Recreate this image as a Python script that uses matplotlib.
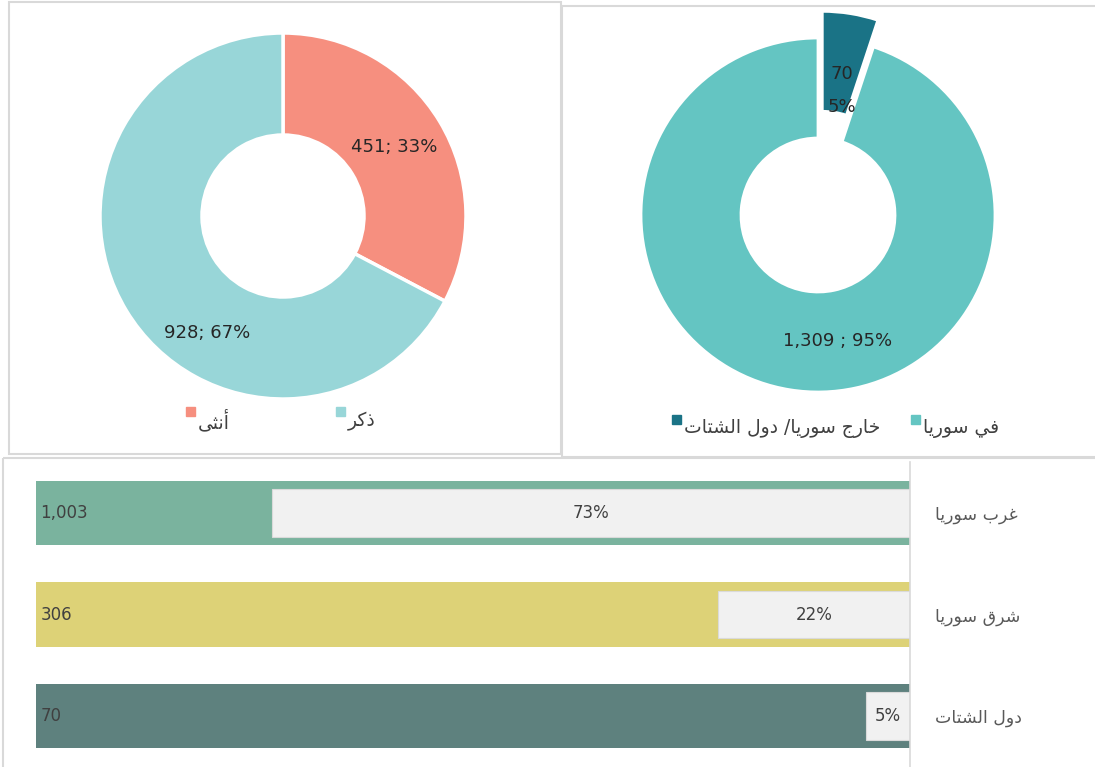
import matplotlib.pyplot as plt
from matplotlib.patches import Rectangle
import numpy as np

# Data
gender_labels = ['أنثى', 'ذكر']
gender_values = [451, 928]
gender_pct = [33, 67]

place_labels = ['خارج سوريا/ دول الشتات', 'في سوريا']
place_values = [70, 1309]
place_pct = [5, 95]

region_labels = ['غرب سوريا', 'شرق سوريا', 'دول الشتات']
region_values = [1003, 306, 70]
region_pct = [73, 22, 5]

# Arabic contextual forms (isolated, final, initial, medial)
FORMS = {
    'ا': ('\uFE8D', '\uFE8E', None, None),
    'أ': ('\uFE83', '\uFE84', None, None),
    'ب': ('\uFE8F', '\uFE90', '\uFE91', '\uFE92'),
    'ت': ('\uFE95', '\uFE96', '\uFE97', '\uFE98'),
    'ث': ('\uFE99', '\uFE9A', '\uFE9B', '\uFE9C'),
    'ج': ('\uFE9D', '\uFE9E', '\uFE9F', '\uFEA0'),
    'خ': ('\uFEA5', '\uFEA6', '\uFEA7', '\uFEA8'),
    'د': ('\uFEA9', '\uFEAA', None, None),
    'ذ': ('\uFEAB', '\uFEAC', None, None),
    'ر': ('\uFEAD', '\uFEAE', None, None),
    'س': ('\uFEB1', '\uFEB2', '\uFEB3', '\uFEB4'),
    'ش': ('\uFEB5', '\uFEB6', '\uFEB7', '\uFEB8'),
    'غ': ('\uFECD', '\uFECE', '\uFECF', '\uFED0'),
    'ف': ('\uFED1', '\uFED2', '\uFED3', '\uFED4'),
    'ق': ('\uFED5', '\uFED6', '\uFED7', '\uFED8'),
    'ك': ('\uFED9', '\uFEDA', '\uFEDB', '\uFEDC'),
    'ل': ('\uFEDD', '\uFEDE', '\uFEDF', '\uFEE0'),
    'ن': ('\uFEE5', '\uFEE6', '\uFEE7', '\uFEE8'),
    'و': ('\uFEED', '\uFEEE', None, None),
    'ى': ('\uFEEF', '\uFEF0', None, None),
    'ي': ('\uFEF1', '\uFEF2', '\uFEF3', '\uFEF4'),
}


def ar(text):
    # shape letters and reverse for right-to-left display
    out = []
    for i, c in enumerate(text):
        if c not in FORMS:
            out.append(c)
            continue
        prev = text[i - 1] if i > 0 else None
        nxt = text[i + 1] if i + 1 < len(text) else None
        jp = prev in FORMS and FORMS[prev][2] is not None
        jn = nxt in FORMS and FORMS[c][2] is not None
        iso, fin, ini, med = FORMS[c]
        if jp and jn:
            out.append(med)
        elif jp:
            out.append(fin)
        elif jn:
            out.append(ini)
        else:
            out.append(iso)
    return ''.join(out)[::-1]


W, H = 1095, 767
fig = plt.figure(figsize=(W / 100, H / 100), dpi=100)

num_font = ['Liberation Sans Narrow', 'DejaVu Sans']
ar_font = ['DejaVu Sans']


def px_axes(cx, cy, half):
    return fig.add_axes([(cx - half) / W, (H - cy - half) / H, 2 * half / W, 2 * half / H])


# background / borders
bg = fig.add_axes([0, 0, 1, 1])
bg.set_xlim(0, W)
bg.set_ylim(H, 0)
bg.axis('off')
for x0, y0, x1, y1 in [(9, 2, 561, 454), (562, 6, 1110, 457), (3, 458, 1110, 780)]:
    bg.add_patch(Rectangle((x0, y0), x1 - x0, y1 - y0, fill=False,
                           edgecolor='#D9D9D9', linewidth=1.5))

# Donut 1 - gender
ax1 = px_axes(283, 216, 200)
gcolors = ['#F68F7F', '#98D6D8']
ax1.pie(gender_values, colors=gcolors, startangle=90, counterclock=False,
        radius=183, wedgeprops=dict(width=102, edgecolor='white', linewidth=2.5),
        frame=True)
ax1.axis('off')
ax1.set_xlim(-200, 200)
ax1.set_ylim(-200, 200)
ax1.set_aspect('equal')
label_pos1 = [(32, 131), (-123, 139)]
for v, p, (ang, r) in zip(gender_values, gender_pct, label_pos1):
    ax1.text(r * np.cos(np.radians(ang)), r * np.sin(np.radians(ang)), f'{v:,}; {p}%',
             ha='center', va='center', fontsize=13, color='#262626', family=num_font)

# Donut 2 - place
ax2 = px_axes(818, 215, 215)
place_colors = ['#1A7386', '#64C5C2']
ax2.pie(place_values, colors=place_colors, startangle=90, counterclock=False,
        radius=177, explode=[27, 0], wedgeprops=dict(width=100, edgecolor='white', linewidth=2),
        frame=True)
ax2.axis('off')
ax2.set_xlim(-215, 215)
ax2.set_ylim(-215, 215)
ax2.set_aspect('equal')
a = np.radians(79)
ax2.text(127 * np.cos(a), 127 * np.sin(a), f'{place_values[0]}\n\n{place_pct[0]}%',
         ha='center', va='center', fontsize=13, color='#262626', family=num_font,
         linespacing=0.9)
a = np.radians(-81)
ax2.text(128 * np.cos(a), 128 * np.sin(a), f'{place_values[1]:,} ; {place_pct[1]}%',
         ha='center', va='center', fontsize=13, color='#262626', family=num_font)

# legends
legend_items = [
    (190, 411, gcolors[0], gender_labels[0]),
    (340, 411, gcolors[1], gender_labels[1]),
    (676, 419, place_colors[0], place_labels[0]),
    (915, 419, place_colors[1], place_labels[1]),
]
for x, y, c, lab in legend_items:
    bg.add_patch(Rectangle((x - 4.5, y - 4.5), 9, 9, color=c))
    bg.text(x + 8, y + 10, ar(lab), ha='left', va='center', fontsize=13.5,
            color='#404040', family=ar_font)

# Bar chart - regions
ax3 = fig.add_axes([36 / W, 0, 874 / W, 305 / H])
bar_colors = ['#7AB39E', '#DDD277', '#5E817E']
y = np.arange(len(region_values))
ax3.barh(y, [100] * len(y), height=0.63, color=bar_colors)
ax3.barh(y, region_pct, height=0.47, color='#F1F1F1', edgecolor='#DADADA', linewidth=0.8)
ax3.set_xlim(100, 0)
ax3.set_ylim(2.5, -0.5)
for i, (v, p) in enumerate(zip(region_values, region_pct)):
    ax3.text(99.5, i, f'{v:,}', ha='left', va='center', fontsize=12,
             color='#404040', family=num_font)
    ax3.text(p / 2, i, f'{p}%', ha='center', va='center', fontsize=12,
             color='#404040', family=num_font)
ax3.yaxis.tick_right()
ax3.set_yticks(y)
ax3.set_yticklabels([ar(l) for l in region_labels], fontsize=12.5, color='#595959',
                    family=ar_font)
ax3.tick_params(axis='y', length=0, pad=18)
ax3.set_xticks([])
for s in ['top', 'bottom', 'left']:
    ax3.spines[s].set_visible(False)
ax3.spines['right'].set_color('#D9D9D9')
ax3.spines['right'].set_linewidth(1.2)

fig.savefig('out.png', dpi=100)
